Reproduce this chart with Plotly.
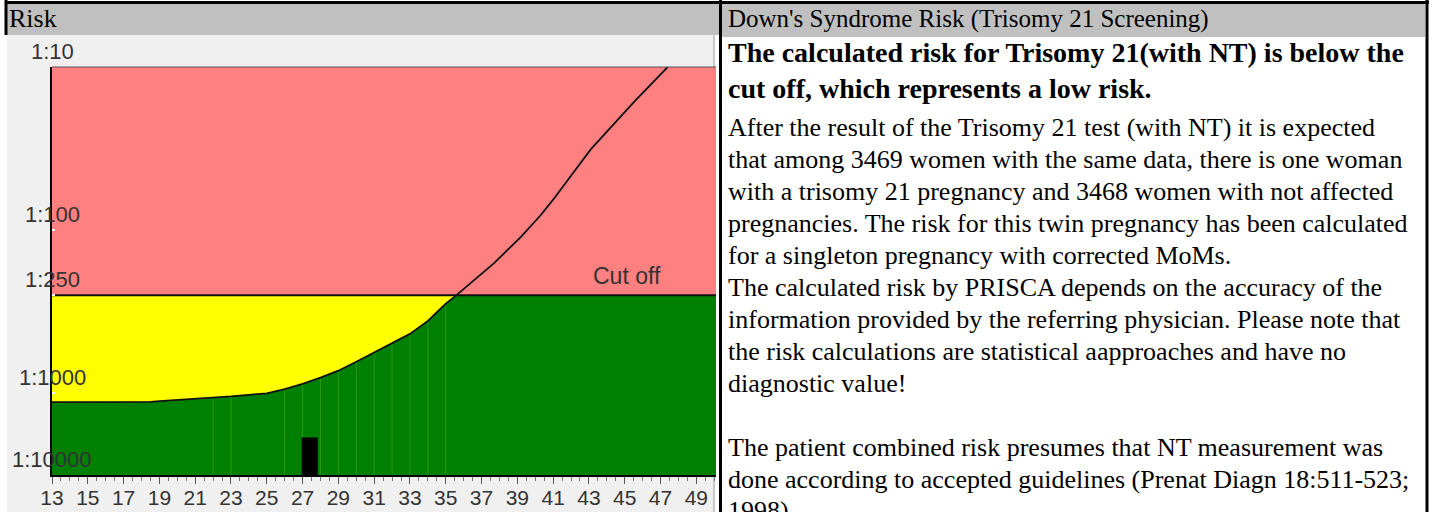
import numpy as np
import plotly.graph_objects as go

# ---------------- data ----------------
AGES = [13, 15, 17, 18.5, 19, 20.5, 22, 23, 24, 25, 26, 27, 28, 29, 30, 31, 32,
        33, 34, 35, 35.6, 37.7, 39.2, 40.3, 41.0, 43.1, 45.6, 47.4]
RISK = [1276, 1276, 1276, 1270, 1242, 1180, 1138, 1090, 1040, 1000, 940, 875, 800, 726,
        640, 560, 490, 432, 360, 282, 250, 159, 110, 81, 65, 32, 16, 10]
SEAM_AGES = [22, 23, 26, 27, 28, 29, 30, 31, 32, 33, 34, 35]
CUTOFF = 250
PATIENT_AGE = 27.4
PATIENT_BAR_WIDTH = 0.9
PATIENT_RISK = 3469
X_TICKS = list(range(13, 50, 2))
Y_TICK_VALUES = [10, 100, 250, 1000, 10000]
Y_TICK_LABELS = ["1:10", "1:100", "1:250", "1:1000", "1:10000"]
X_MIN, X_MAX = 13, 50.1
RISK_TOP, RISK_BOTTOM = 10, 10000

HEADER_LEFT = "Risk"
HEADER_RIGHT = "Down's Syndrome Risk (Trisomy 21 Screening)"
BOLD_LINES = ["The calculated risk for Trisomy 21(with NT) is below the",
              "cut off, which represents a low risk."]
BODY_LINES = [
    "After the result of the Trisomy 21 test (with NT) it is expected",
    "that among 3469 women with the same data, there is one woman",
    "with a trisomy 21 pregnancy and 3468 women with not affected",
    "pregnancies. The risk for this twin pregnancy has been calculated",
    "for a singleton pregnancy with corrected MoMs.",
    "The calculated risk by PRISCA depends on the accuracy of the",
    "information provided by the referring physician. Please note that",
    "the risk calculations are statistical aapproaches and have no",
    "diagnostic value!",
    "",
    "The patient combined risk presumes that NT measurement was",
    "done according to accepted guidelines (Prenat Diagn 18:511-523;",
    "1998)",
]


# piecewise log scale of the risk axis (1:10..1:1000 full decades, 1:1000..1:10000 half)
def f(r):
    r = np.asarray(r, dtype=float)
    lg = np.log10(r)
    return np.where(lg <= 3, lg, 3 + 0.5 * (lg - 3))


W, H = 1434, 512
L, R, T, B = 52, 716, 67, 475


def px(x):
    return (x - L) / (R - L)


def py(y):
    return (B - y) / (B - T)


ages = np.array(AGES, dtype=float)
risk = np.array(RISK, dtype=float)
yc = f(risk)
below = risk >= CUTOFF
a_low = ages[below]
y_low = yc[below]
y_cut = float(f(CUTOFF))
y_top = float(f(RISK_TOP))
y_bot = float(f(RISK_BOTTOM))
y_pat = float(f(PATIENT_RISK))
risk_by_age = dict(zip(AGES, RISK))

fig = go.Figure()

# red (high risk) zone
fig.add_trace(go.Scatter(x=[X_MIN, X_MAX, X_MAX, X_MIN], y=[y_top, y_top, y_cut, y_cut],
                         fill="toself", fillcolor="#ff8080", line=dict(width=0),
                         mode="lines", hoverinfo="skip", showlegend=False))
# yellow zone: between cut off and curve
fig.add_trace(go.Scatter(x=list(a_low) + [a_low[-1], X_MIN],
                         y=list(y_low) + [y_cut, y_cut],
                         fill="toself", fillcolor="#ffff00", line=dict(width=0),
                         mode="lines", hoverinfo="skip", showlegend=False))
# green zone: below curve and cut off
fig.add_trace(go.Scatter(x=list(a_low) + [X_MAX, X_MAX, X_MIN],
                         y=list(y_low) + [y_cut, y_bot, y_bot],
                         fill="toself", fillcolor="#008000", line=dict(width=0),
                         mode="lines", hoverinfo="skip", showlegend=False))
# faint polygon seams in the green zone
sx, sy = [], []
for a in SEAM_AGES:
    sx += [a, a, None]
    sy += [y_bot, float(f(max(risk_by_age[a], CUTOFF))), None]
fig.add_trace(go.Scatter(x=sx, y=sy, mode="lines",
                         line=dict(color="rgba(150,205,40,0.3)", width=1),
                         hoverinfo="skip", showlegend=False))
# cut off line
fig.add_trace(go.Scatter(x=[X_MIN, X_MAX], y=[y_cut, y_cut], mode="lines",
                         line=dict(color="#111111", width=2), hoverinfo="skip",
                         showlegend=False))
# age risk curve
fig.add_trace(go.Scatter(x=ages, y=yc, mode="lines", line=dict(color="#111111", width=1.8),
                         hoverinfo="skip", showlegend=False))
# patient bar (drawn as a filled scatter so it sits above the zones)
hw = PATIENT_BAR_WIDTH / 2
fig.add_trace(go.Scatter(x=[PATIENT_AGE - hw, PATIENT_AGE + hw, PATIENT_AGE + hw,
                            PATIENT_AGE - hw],
                         y=[y_bot, y_bot, y_pat, y_pat], fill="toself", fillcolor="black",
                         line=dict(width=0), mode="lines", hoverinfo="skip",
                         showlegend=False))

shapes = []
# chart panel background
shapes.append(dict(type="rect", xref="paper", yref="paper", x0=px(7), x1=px(715),
                   y0=py(35), y1=py(512), fillcolor="#f0f0f0", line=dict(width=0),
                   layer="below"))
shapes.append(dict(type="line", xref="paper", yref="paper", x0=px(714), x1=px(714),
                   y0=py(35), y1=py(512), line=dict(color="#c8c8c8", width=2),
                   layer="below"))
# headers
shapes.append(dict(type="rect", xref="paper", yref="paper", x0=px(7), x1=px(719),
                   y0=py(4), y1=py(35), fillcolor="#c0c0c0", line=dict(width=0),
                   layer="below"))
shapes.append(dict(type="rect", xref="paper", yref="paper", x0=px(722), x1=px(1425),
                   y0=py(4), y1=py(37), fillcolor="#c0c0c0", line=dict(width=0),
                   layer="below"))
# borders
shapes.append(dict(type="line", xref="paper", yref="paper", x0=px(5), x1=px(1429),
                   y0=py(2.5), y1=py(2.5), line=dict(color="black", width=3)))
shapes.append(dict(type="line", xref="paper", yref="paper", x0=px(6), x1=px(6),
                   y0=py(0), y1=py(35), line=dict(color="black", width=3)))
shapes.append(dict(type="line", xref="paper", yref="paper", x0=px(720.5), x1=px(720.5),
                   y0=py(0), y1=py(512), line=dict(color="black", width=3)))
shapes.append(dict(type="line", xref="paper", yref="paper", x0=px(1427), x1=px(1427),
                   y0=py(0), y1=py(512), line=dict(color="black", width=3)))
# plot top edge
shapes.append(dict(type="line", xref="paper", yref="paper", x0=0, x1=1,
                   y0=1, y1=1, line=dict(color="#555555", width=1)))

sans = "Liberation Sans, Arial, sans-serif"
annotations = []
# y labels centred on the axis, above their tick
for v, lab in zip(Y_TICK_VALUES, Y_TICK_LABELS):
    annotations.append(dict(xref="paper", yref="y", x=0, y=float(f(v)), text=lab,
                            showarrow=False, xanchor="center", yanchor="middle", yshift=16,
                            font=dict(family=sans, size=22, color="#333333")))
annotations.append(dict(xref="x", yref="y", x=45.1, y=y_cut, text="Cut off",
                        showarrow=False, xanchor="center", yanchor="middle", yshift=19,
                        font=dict(family=sans, size=23, color="#333333")))

serif = "Liberation Serif, Times New Roman, serif"
annotations.append(dict(xref="paper", yref="paper", x=px(7), y=py(19), text=HEADER_LEFT,
                        showarrow=False, xanchor="left", yanchor="middle",
                        font=dict(family=serif, size=26, color="black")))
annotations.append(dict(xref="paper", yref="paper", x=px(726), y=py(19), text=HEADER_RIGHT,
                        showarrow=False, xanchor="left", yanchor="middle",
                        font=dict(family=serif, size=25, color="black")))
for i, line in enumerate(BOLD_LINES):
    annotations.append(dict(xref="paper", yref="paper", x=px(726), y=py(53 + 35 * i),
                            text="<b>" + line + "</b>", showarrow=False, xanchor="left",
                            yanchor="middle", font=dict(family=serif, size=28, color="black")))
for i, line in enumerate(BODY_LINES):
    if not line:
        continue
    annotations.append(dict(xref="paper", yref="paper", x=px(726), y=py(127 + 32 * i),
                            text=line, showarrow=False, xanchor="left", yanchor="middle",
                            font=dict(family=serif, size=26, color="black")))

fig.update_layout(
    width=W, height=H, autosize=False,
    margin=dict(l=L, r=W - R, t=T, b=H - B, pad=0, autoexpand=False),
    paper_bgcolor="white", plot_bgcolor="#f0f0f0",
    shapes=shapes, annotations=annotations,
    xaxis=dict(range=[X_MIN, X_MAX], tickmode="array", tickvals=X_TICKS,
               ticks="outside", ticklen=7, tickwidth=1, tickcolor="#555555",
               automargin=False, ticklabelstandoff=-4,
               showgrid=False, zeroline=False, showline=True, linecolor="black",
               linewidth=2, tickfont=dict(family=sans, size=21, color="#333333"),
               minor=dict(dtick=0.5, tick0=13, ticks="outside", ticklen=4,
                          tickcolor="#777777", tickwidth=1, showgrid=False)),
    yaxis=dict(range=[y_bot, y_top], tickmode="array", automargin=False,
               tickvals=[float(f(v)) for v in [100, 250, 1000]], showticklabels=False,
               ticks="inside", ticklen=3, tickwidth=2, tickcolor="white",
               showgrid=False, zeroline=False, showline=True, linecolor="black",
               linewidth=2),
)

fig.write_html("out.html", config={"displayModeBar": False, "responsive": False},
               post_script="document.body.style.margin='0px';")
